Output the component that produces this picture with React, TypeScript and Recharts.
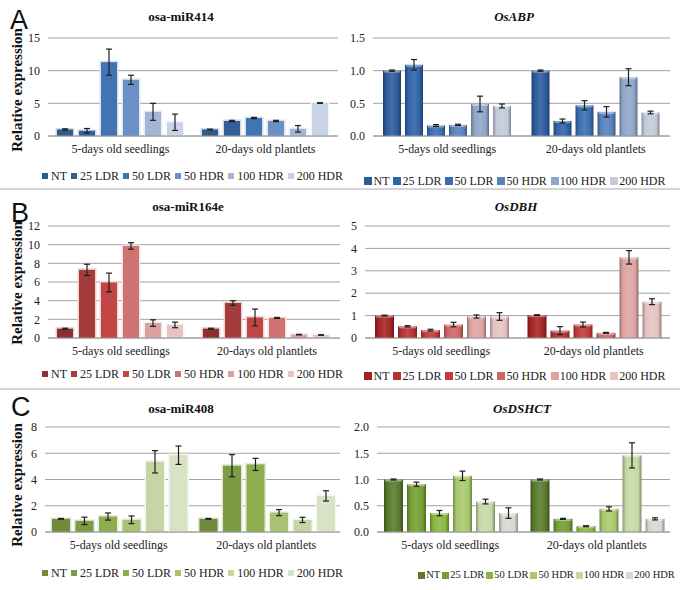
import React from 'react';
import { Bar, BarChart, CartesianGrid, ErrorBar, Legend, XAxis, YAxis } from 'recharts';

const SERIF = 'Liberation Serif, DejaVu Serif, Times, serif';
const SANS = 'Liberation Sans, Arial, sans-serif';

const categories = ['5-days old seedlings', '20-days old plantlets'];
const treatments = ['NT', '25 LDR', '50 LDR', '50 HDR', '100 HDR', '200 HDR'];

// A - osa-miR414 / OsABP
const mir414Seedlings = [1.0, 0.8, 11.3, 8.6, 3.7, 2.1];
const mir414SeedlingsErr = [0.1, 0.35, 2.0, 0.7, 1.3, 1.25];
const mir414Plantlets = [1.0, 2.3, 2.75, 2.3, 1.1, 5.05];
const mir414PlantletsErr = [0.05, 0.1, 0.1, 0.1, 0.5, 0.05];

const abpSeedlings = [1.0, 1.09, 0.16, 0.17, 0.49, 0.46];
const abpSeedlingsErr = [0.01, 0.08, 0.015, 0.01, 0.12, 0.03];
const abpPlantlets = [1.0, 0.23, 0.47, 0.37, 0.9, 0.36];
const abpPlantletsErr = [0.01, 0.03, 0.07, 0.08, 0.13, 0.02];

// B - osa-miR164e / OsDBH
const mir164Seedlings = [1.0, 7.3, 5.95, 9.86, 1.6, 1.4];
const mir164SeedlingsErr = [0.05, 0.6, 1.0, 0.35, 0.35, 0.3];
const mir164Plantlets = [1.0, 3.75, 2.2, 2.15, 0.36, 0.32];
const mir164PlantletsErr = [0.05, 0.25, 0.9, 0.05, 0.03, 0.03];

const dbhSeedlings = [1.0, 0.52, 0.35, 0.6, 0.96, 0.96];
const dbhSeedlingsErr = [0.02, 0.03, 0.04, 0.1, 0.07, 0.17];
const dbhPlantlets = [1.02, 0.33, 0.6, 0.23, 3.6, 1.62];
const dbhPlantletsErr = [0.02, 0.18, 0.11, 0.02, 0.3, 0.13];

// C - osa-miR408 / OsDSHCT
const mir408Seedlings = [1.0, 0.85, 1.18, 0.93, 5.35, 5.85];
const mir408SeedlingsErr = [0.03, 0.28, 0.27, 0.29, 0.85, 0.7];
const mir408Plantlets = [1.0, 5.05, 5.15, 1.48, 0.92, 2.75];
const mir408PlantletsErr = [0.03, 0.85, 0.46, 0.23, 0.2, 0.39];

const dshctSeedlings = [1.0, 0.91, 0.36, 1.07, 0.58, 0.36];
const dshctSeedlingsErr = [0.01, 0.04, 0.05, 0.09, 0.045, 0.1];
const dshctPlantlets = [1.0, 0.25, 0.11, 0.44, 1.46, 0.25];
const dshctPlantletsErr = [0.01, 0.01, 0.01, 0.04, 0.24, 0.02];

const ticks414 = [0, 5, 10, 15];
const ticksABP = [0, 0.5, 1.0, 1.5];
const ticks164 = [0, 2, 4, 6, 8, 10, 12];
const ticksDBH = [0, 1, 2, 3, 4, 5];
const ticks408 = [0, 2, 4, 6, 8];
const ticksDSHCT = [0, 0.5, 1.0, 1.5, 2.0];

const bluesFlat = ['#2f5b8f', '#34609a', '#4273b3', '#6b90c6', '#a3b6d8', '#c9d3e7'];
const bluesGloss = ['#2b5b9c', '#2f62a6', '#3b6db2', '#5682bd', '#8fa6ca', '#c2cadb'];
const redsFlat = ['#8e2f2f', '#a53c3c', '#c04545', '#cf7272', '#dba1a1', '#e7c3c3'];
const redsGloss = ['#a52422', '#b63131', '#c23a3a', '#cf6464', '#dea3a3', '#e6c2c2'];
const greensFlat = ['#6f8b3b', '#7d9b42', '#8cae4f', '#a8c172', '#c6d5a6', '#d8e2c4'];
const greensGloss = ['#587a2c', '#759e33', '#8bb63e', '#a7ca6d', '#c5d9a6', '#d6d9cf'];

const shade = (hex: string, amt: number) => {
  const n = parseInt(hex.slice(1), 16);
  const t = amt < 0 ? 0 : 255;
  const p = Math.abs(amt);
  const mix = (c: number) => Math.round(c + (t - c) * p);
  return `rgb(${mix((n >> 16) & 255)},${mix((n >> 8) & 255)},${mix(n & 255)})`;
};

const buildRows = (vals: number[][], errs: number[][]) =>
  categories.map((cat, i) => {
    const row: Record<string, any> = { cat };
    treatments.forEach((t, j) => {
      row[t] = vals[i][j];
      row[t + '_e'] = errs[i][j];
    });
    return row;
  });

const FlatBar = (props: any) => {
  const { x, y, width, height, fill } = props;
  if (!height || height <= 0) return null;
  return (
    <g>
      <rect x={x - 1.5} y={y - 1.5} width={width + 3} height={height + 1.5} fill={shade(fill, 0.78)} />
      <rect x={x} y={y} width={width} height={height} fill={fill} />
    </g>
  );
};

const GlossyBar = (props: any) => {
  const { x, y, width, height, gradId } = props;
  if (!height || height <= 0) return null;
  return (
    <g>
      <rect x={x} y={y} width={width} height={height} fill={`url(#${gradId})`} />
      <rect x={x + 1} y={y} width={width - 2} height={Math.min(2, height)} fill="#fff" opacity={0.4} />
    </g>
  );
};

type LegendCfg = {
  top: number;
  left: number;
  width: number;
  fontSize: number;
  iconSize: number;
  iconGap: number;
  gap: number;
};

const LegendRow = ({ colors, cfg }: { colors: string[]; cfg: LegendCfg }) => (
  <div
    style={{
      display: 'flex',
      justifyContent: 'center',
      whiteSpace: 'nowrap',
      fontFamily: SERIF,
      fontSize: cfg.fontSize,
      lineHeight: `${cfg.fontSize}px`,
      color: '#222',
    }}
  >
    {treatments.map((t, j) => (
      <span
        key={t}
        style={{ display: 'inline-flex', alignItems: 'center', marginRight: j < treatments.length - 1 ? cfg.gap : 0 }}
      >
        <span
          style={{
            display: 'inline-block',
            width: cfg.iconSize,
            height: cfg.iconSize,
            background: colors[j],
            marginRight: cfg.iconGap,
          }}
        />
        {t}
      </span>
    ))}
  </div>
);

type PanelProps = {
  id: string;
  left: number;
  top: number;
  height: number;
  margin: { top: number; right: number; bottom: number; left: number };
  yWidth: number;
  ticks: number[];
  decimals: number;
  rows: Record<string, any>[];
  colors: string[];
  glossy: boolean;
  catGap: number;
  barGap: number;
  legend: LegendCfg;
};

const Panel = ({ id, left, top, height, margin, yWidth, ticks, decimals, rows, colors, glossy, catGap, barGap, legend }: PanelProps) => (
  <div style={{ position: 'absolute', left, top, width: 340, height }}>
    <BarChart width={340} height={height} data={rows} margin={margin} barCategoryGap={catGap} barGap={barGap}>
      <defs>
        {colors.map((c, j) => (
          <linearGradient key={c} id={`${id}-g${j}`} x1="0" y1="0" x2="1" y2="0">
            <stop offset="0%" stopColor={shade(c, -0.3)} />
            <stop offset="18%" stopColor={c} />
            <stop offset="50%" stopColor={shade(c, 0.12)} />
            <stop offset="82%" stopColor={c} />
            <stop offset="100%" stopColor={shade(c, -0.35)} />
          </linearGradient>
        ))}
      </defs>
      <CartesianGrid vertical={false} stroke="#a2a2a2" />
      <XAxis
        dataKey="cat"
        height={30}
        axisLine={{ stroke: '#9a9a9a' }}
        tickLine={false}
        tick={{ fontSize: 12, fill: '#222', fontFamily: SERIF }}
      />
      <YAxis
        width={yWidth}
        type="number"
        domain={[0, ticks[ticks.length - 1]]}
        ticks={ticks}
        interval={0}
        tickFormatter={(v: number) => v.toFixed(decimals)}
        axisLine={false}
        tickLine={false}
        tick={{ fontSize: 12, fill: '#222', fontFamily: SERIF }}
      />
      <Legend
        verticalAlign="middle"
        wrapperStyle={{ top: legend.top, left: legend.left, width: legend.width }}
        content={() => <LegendRow colors={colors} cfg={legend} />}
      />
      {treatments.map((t, j) => (
        <Bar
          key={t}
          dataKey={t}
          name={t}
          fill={colors[j]}
          isAnimationActive={false}
          shape={(p: any) => (glossy ? <GlossyBar {...p} gradId={`${id}-g${j}`} /> : <FlatBar {...p} fill={colors[j]} />)}
        >
          <ErrorBar dataKey={t + '_e'} width={3} stroke="#1e1e1e" strokeWidth={1.2} />
        </Bar>
      ))}
    </BarChart>
  </div>
);

const Title = ({ text, cx, top, italic }: { text: string; cx: number; top: number; italic?: boolean }) => (
  <div
    style={{
      position: 'absolute',
      left: cx,
      top,
      transform: 'translateX(-50%)',
      fontFamily: SERIF,
      fontWeight: 'bold',
      fontStyle: italic ? 'italic' : 'normal',
      fontSize: 13,
      lineHeight: '13px',
      whiteSpace: 'nowrap',
      color: '#111',
    }}
  >
    {text}
  </div>
);

const YLabel = ({ cy }: { cy: number }) => (
  <div
    style={{
      position: 'absolute',
      left: 17,
      top: cy,
      transform: 'translate(-50%, -50%) rotate(-90deg)',
      fontFamily: SERIF,
      fontWeight: 'bold',
      fontSize: 15,
      lineHeight: '15px',
      whiteSpace: 'nowrap',
      color: '#111',
    }}
  >
    Relative expression
  </div>
);

const Letter = ({ text, x, y }: { text: string; x: number; y: number }) => (
  <div style={{ position: 'absolute', left: x, top: y, fontFamily: SANS, fontSize: 27, lineHeight: '27px', color: '#111' }}>
    {text}
  </div>
);

const leftLegend = (top: number): LegendCfg => ({ top, left: 40, width: 305, fontSize: 12, iconSize: 6, iconGap: 3, gap: 4 });
const rightLegend = (top: number): LegendCfg => ({ top, left: 25, width: 300, fontSize: 12, iconSize: 8, iconGap: 1, gap: 4 });

export default function App() {
  return (
    <div style={{ position: 'absolute', left: 0, top: 0, width: 680, height: 590, background: '#fff', overflow: 'hidden' }}>
      <Panel
        id="a1"
        left={0}
        top={0}
        height={190}
        margin={{ top: 38, right: 2, left: 0, bottom: 24 }}
        yWidth={48}
        ticks={ticks414}
        decimals={0}
        rows={buildRows([mir414Seedlings, mir414Plantlets], [mir414SeedlingsErr, mir414PlantletsErr])}
        colors={bluesFlat}
        glossy={false}
        catGap={9}
        barGap={6}
        legend={leftLegend(170)}
      />
      <Panel
        id="a2"
        left={340}
        top={0}
        height={190}
        margin={{ top: 38, right: 10, left: 0, bottom: 24 }}
        yWidth={33}
        ticks={ticksABP}
        decimals={1}
        rows={buildRows([abpSeedlings, abpPlantlets], [abpSeedlingsErr, abpPlantletsErr])}
        colors={bluesGloss}
        glossy
        catGap={10}
        barGap={4}
        legend={rightLegend(175)}
      />
      <Panel
        id="b1"
        left={0}
        top={190}
        height={200}
        margin={{ top: 36, right: 0, left: 0, bottom: 22 }}
        yWidth={48}
        ticks={ticks164}
        decimals={0}
        rows={buildRows([mir164Seedlings, mir164Plantlets], [mir164SeedlingsErr, mir164PlantletsErr])}
        colors={redsFlat}
        glossy={false}
        catGap={9}
        barGap={6}
        legend={leftLegend(178)}
      />
      <Panel
        id="b2"
        left={340}
        top={190}
        height={200}
        margin={{ top: 36, right: 10, left: 0, bottom: 22 }}
        yWidth={25}
        ticks={ticksDBH}
        decimals={0}
        rows={buildRows([dbhSeedlings, dbhPlantlets], [dbhSeedlingsErr, dbhPlantletsErr])}
        colors={redsGloss}
        glossy
        catGap={10}
        barGap={4}
        legend={rightLegend(180)}
      />
      <Panel
        id="c1"
        left={0}
        top={390}
        height={200}
        margin={{ top: 37, right: 0, left: 0, bottom: 28 }}
        yWidth={45}
        ticks={ticks408}
        decimals={0}
        rows={buildRows([mir408Seedlings, mir408Plantlets], [mir408SeedlingsErr, mir408PlantletsErr])}
        colors={greensFlat}
        glossy={false}
        catGap={7}
        barGap={5.5}
        legend={leftLegend(177)}
      />
      <Panel
        id="c2"
        left={340}
        top={390}
        height={200}
        margin={{ top: 37, right: 10, left: 0, bottom: 28 }}
        yWidth={37}
        ticks={ticksDSHCT}
        decimals={1}
        rows={buildRows([dshctSeedlings, dshctPlantlets], [dshctSeedlingsErr, dshctPlantletsErr])}
        colors={greensGloss}
        glossy
        catGap={7}
        barGap={4}
        legend={{ top: 180, left: 85, width: 243, fontSize: 10.5, iconSize: 7, iconGap: 1, gap: 2 }}
      />

      <div style={{ position: 'absolute', left: 0, top: 188, width: 680, height: 2, background: '#d4d4d4' }} />
      <div style={{ position: 'absolute', left: 0, top: 388, width: 680, height: 2, background: '#d4d4d4' }} />

      <Letter text="A" x={10} y={7} />
      <Letter text="B" x={11} y={200} />
      <Letter text="C" x={11} y={394} />

      <Title text="osa-miR414" cx={181} top={10} />
      <Title text="OsABP" cx={514} top={10} italic />
      <Title text="osa-miR164e" cx={188} top={200} />
      <Title text="OsDBH" cx={516} top={200} italic />
      <Title text="osa-miR408" cx={181} top={402} />
      <Title text="OsDSHCT" cx={522} top={402} italic />

      <YLabel cy={90} />
      <YLabel cy={283} />
      <YLabel cy={485} />
    </div>
  );
}
